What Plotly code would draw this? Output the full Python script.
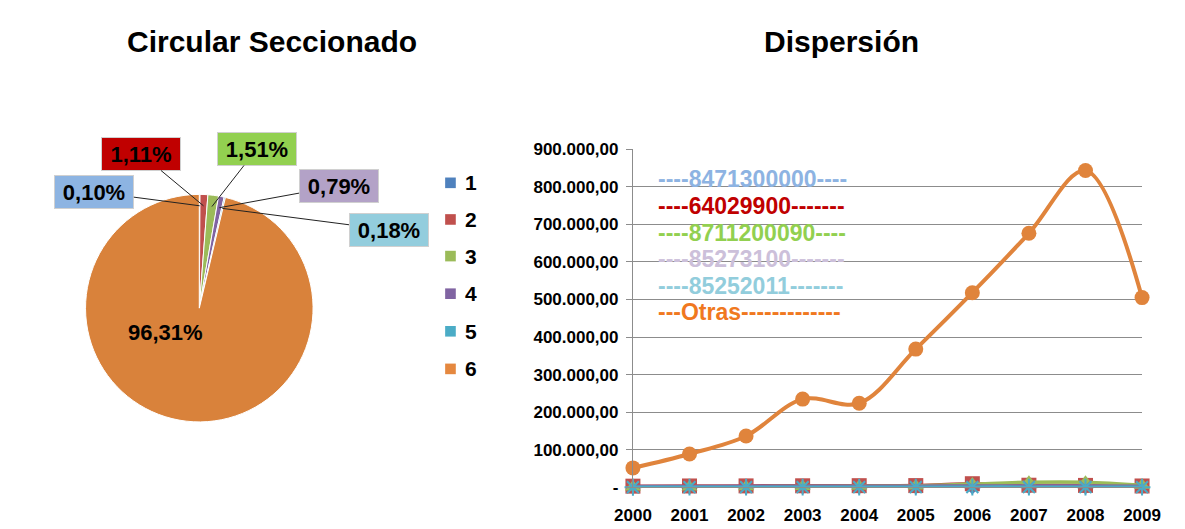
import math
import plotly.graph_objects as go

# ---------------- Data ----------------
# Pie ("Circular Seccionado")
pie_labels = ["1", "2", "3", "4", "5", "6"]
pie_values = [0.10, 1.11, 1.51, 0.79, 0.18, 96.31]
pie_colors = ["#95B3D7", "#C0504D", "#9BBB59", "#8064A2", "#4BACC6", "#D9823B"]
legend_colors = ["#4F81BD", "#C0504D", "#9BBB59", "#8064A2", "#4BACC6", "#E5883F"]
label_box_colors = ["#8DB4E2", "#C00000", "#92D050", "#B3A2C7", "#93CDDD"]

# Lines ("Dispersión")
years = [2000, 2001, 2002, 2003, 2004, 2005, 2006, 2007, 2008, 2009]
s_8471300000 = [300, 350, 400, 350, 400, 450, 400, 350, 400, 300]
s_64029900 = [3500, 4000, 4200, 4500, 4800, 5000, 10000, 6000, 5500, 4000]
s_8711200090 = [1000, 1500, 2000, 2500, 3000, 4000, 9000, 14000, 14000, 6000]
s_85273100 = [2500, 2800, 3000, 3200, 3500, 3500, 4000, 4000, 3800, 3000]
s_85252011 = [600, 700, 700, 800, 700, 800, 900, 900, 800, 700]
s_otras = [52000, 89000, 137000, 235000, 224000, 368000, 518000, 676000, 843000, 505000]

series_names = ["8471300000", "64029900", "8711200090", "85273100", "85252011", "Otras"]
series_values = [s_8471300000, s_64029900, s_8711200090, s_85273100, s_85252011, s_otras]
series_colors = ["#4F81BD", "#C0504D", "#9BBB59", "#8064A2", "#4BACC6", "#E0843C"]
series_symbols = ["diamond", "square", "triangle-up", "x-thin-open", "asterisk-open", "circle"]

legend_texts = ["----8471300000----", "----64029900-------", "----8711200090----",
                "----85273100-------", "----85252011-------", "---Otras-------------"]
legend_text_colors = ["#8DB3E2", "#C00000", "#92D050", "#CCC0DA", "#92CDDC", "#F07820"]

y_tickvals = [0, 100000, 200000, 300000, 400000, 500000, 600000, 700000, 800000, 900000]
y_ticktext = ["-", "100.000,00", "200.000,00", "300.000,00", "400.000,00", "500.000,00",
              "600.000,00", "700.000,00", "800.000,00", "900.000,00"]
x_ticktext = [str(y) for y in years]

# ---------------- Layout helpers ----------------
W, H = 1185, 529
FONT = "Liberation Sans, Arial, sans-serif"


def px(x):
    return x / W


def py(y):
    return 1 - y / H


fig = go.Figure()

# ---------------- Pie ----------------
cx, cy, r = 178, 302, 118
fig.add_trace(go.Pie(
    labels=pie_labels,
    values=pie_values,
    sort=False,
    direction="clockwise",
    rotation=0,
    marker=dict(colors=pie_colors, line=dict(color="white", width=1)),
    textinfo="none",
    hoverinfo="skip",
    showlegend=False,
    domain=dict(x=[px(cx - r), px(cx + r)], y=[py(cy + r), py(cy - r)]),
))

total = sum(pie_values)


def pct_text(v):
    return f"{100 * v / total:.2f}".replace(".", ",") + "%"


# labelled boxes for small slices
box_centers = [(73, 182), (120, 144), (236, 139), (318, 176), (368, 220)]
cum = 0.0
annotations = []
for i, v in enumerate(pie_values[:-1]):
    ang = math.radians(360 * (cum + v / 2) / total)
    cum += v
    tx = cx + 0.9 * r * math.sin(ang)
    ty = cy - 0.9 * r * math.cos(ang)
    bx, by = box_centers[i]
    annotations.append(dict(
        x=px(tx), y=py(ty), xref="paper", yref="paper",
        ax=bx - tx, ay=by - ty, axref="pixel", ayref="pixel",
        text=pct_text(v), showarrow=True, arrowhead=0, arrowwidth=1, arrowcolor="#222222",
        font=dict(family=FONT, size=22, color="black", weight="bold"),
        bgcolor=label_box_colors[i], bordercolor="#D0D0D0", borderwidth=1,
        borderpad=3, width=72, height=26, align="center",
    ))

# label of the big slice
annotations.append(dict(x=px(143), y=py(327), xref="paper", yref="paper",
                        text=pct_text(pie_values[-1]), showarrow=False,
                        xanchor="center", yanchor="middle",
                        font=dict(family=FONT, size=22, color="black", weight="bold")))

# pie legend
shapes = []
leg_y = [172, 210, 248, 287, 326, 365]
for i, lab in enumerate(pie_labels):
    shapes.append(dict(type="rect", xref="paper", yref="paper",
                       x0=px(432), x1=px(443), y0=py(leg_y[i] + 5.5), y1=py(leg_y[i] - 5.5),
                       fillcolor=legend_colors[i], line=dict(width=0)))
    annotations.append(dict(x=px(450), y=py(leg_y[i]), xref="paper", yref="paper",
                            text=lab, showarrow=False, xanchor="left", yanchor="middle",
                            font=dict(family=FONT, size=21, color="black", weight="bold")))

# ---------------- Lines ----------------
marker_sizes = [11, 15, 14, 11, 14, 15]
for name, vals, col, sym, ms in zip(series_names, series_values, series_colors,
                                    series_symbols, marker_sizes):
    is_otras = name == "Otras"
    marker = dict(symbol=sym, size=ms, color=col)
    if sym == "asterisk-open":
        marker["line"] = dict(color=col, width=2)
    elif sym == "x-thin-open":
        marker["line"] = dict(color=col, width=1)
    fig.add_trace(go.Scatter(
        x=years, y=vals, name=name, mode="lines+markers",
        line=dict(color=col, width=4 if is_otras else 3.5, shape="spline", smoothing=1),
        marker=marker, cliponaxis=False, showlegend=False, hoverinfo="skip",
        xaxis="x", yaxis="y",
    ))

# in-plot legend texts
leg2_y = [168, 196, 224, 251, 279, 306]
for t, c, yy in zip(legend_texts, legend_text_colors, leg2_y):
    annotations.append(dict(x=px(650), y=py(yy), xref="paper", yref="paper",
                            text=t, showarrow=False, xanchor="left", yanchor="middle",
                            font=dict(family=FONT, size=23, color=c, weight="bold")))

# titles
annotations.append(dict(x=px(253), y=py(25), xref="paper", yref="paper",
                        text="Circular Seccionado", showarrow=False,
                        xanchor="center", yanchor="middle",
                        font=dict(family=FONT, size=30, color="black", weight="bold")))
annotations.append(dict(x=px(841), y=py(25), xref="paper", yref="paper",
                        text="Dispersión", showarrow=False,
                        xanchor="center", yanchor="middle",
                        font=dict(family=FONT, size=30, color="black", weight="bold")))

fig.update_layout(
    width=W, height=H,
    margin=dict(l=0, r=0, t=0, b=0),
    paper_bgcolor="white", plot_bgcolor="white",
    separators=",.",
    showlegend=False,
    annotations=annotations,
    shapes=shapes,
    xaxis=dict(
        domain=[px(626), px(1152)], range=[2000, 2009],
        tickvals=years, ticktext=x_ticktext, showgrid=False, zeroline=False,
        showline=True, linecolor="#8C8C8C", linewidth=1, ticks="",
        ticklabelstandoff=12,
        tickfont=dict(family=FONT, size=17, color="black", weight="bold"),
        fixedrange=True,
    ),
    yaxis=dict(
        domain=[py(488), py(137)], range=[0, 900000],
        tickvals=y_tickvals, ticktext=y_ticktext,
        showgrid=True, gridcolor="#8C8C8C", gridwidth=1, zeroline=False,
        showline=True, linecolor="#8C8C8C", linewidth=1,
        ticks="outside", ticklen=6, tickcolor="#8C8C8C",
        ticklabelstandoff=4,
        tickfont=dict(family=FONT, size=17, color="black", weight="bold"),
        fixedrange=True,
    ),
)

fig.write_html("out.html", config={"displayModeBar": False})
